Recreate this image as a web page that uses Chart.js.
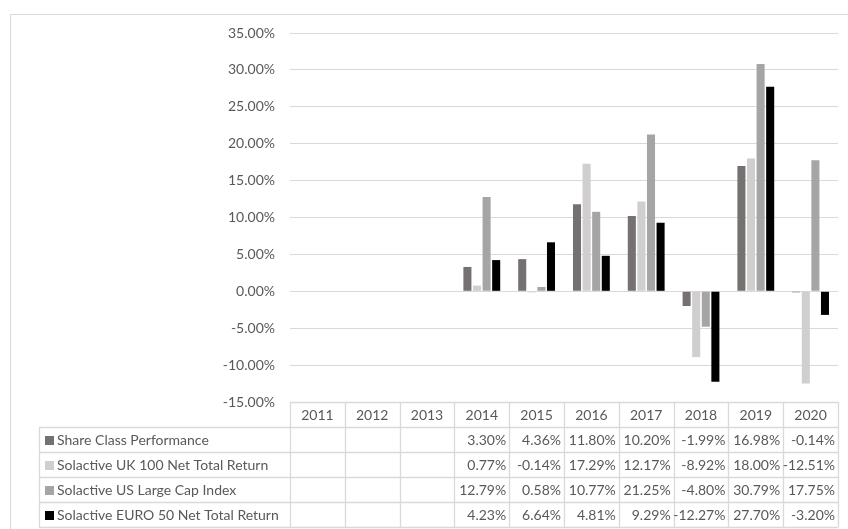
<!DOCTYPE html>
<html lang="en">
<head>
  <meta charset="UTF-8">
  <title>Annual performance</title>
  <script src="https://cdn.jsdelivr.net/npm/chart.js"></script>
  <style>
    html, body { margin: 0; padding: 0; background: #fff; }
  </style>
</head>
<body>
  <canvas id="myChart" width="848" height="529"></canvas>

  <script>
    // Years and series values (percent)
    const years = ['2011', '2012', '2013', '2014', '2015', '2016', '2017', '2018', '2019', '2020'];
    const shareClass = [null, null, null, 3.30, 4.36, 11.80, 10.20, -1.99, 16.98, -0.14];
    const uk100 = [null, null, null, 0.77, -0.14, 17.29, 12.17, -8.92, 18.00, -12.51];
    const usLargeCap = [null, null, null, 12.79, 0.58, 10.77, 21.25, -4.80, 30.79, 17.75];
    const euro50 = [null, null, null, 4.23, 6.64, 4.81, 9.29, -12.27, 27.70, -3.20];

    const seriesNames = [
      'Share Class Performance',
      'Solactive UK 100 Net Total Return',
      'Solactive US Large Cap Index',
      'Solactive EURO 50 Net Total Return'
    ];
    const seriesColors = ['#767171', '#d0cece', '#a5a5a5', '#000000'];
    const seriesData = [shareClass, uk100, usLargeCap, euro50];

    const FONT = 'Lato, "Open Sans", sans-serif';
    const TEXT = '#595959';
    const LINE = '#d9d9d9';

    function fmt(v) {
      return v.toFixed(2) + '%';
    }

    // Frame + data table drawn under the plot, using the x scale for columns
    const tablePlugin = {
      id: 'dataTable',
      beforeDraw(chart) {
        const c = chart.ctx;
        c.save();
        c.strokeStyle = LINE;
        c.lineWidth = 1;
        c.strokeRect(10.5, 14.5, 860, 540);
        c.restore();
      },
      afterDraw(chart) {
        const c = chart.ctx;
        const x = chart.scales.x;
        const area = chart.chartArea;
        const rowH = 25;
        const top = area.bottom;
        const legendLeft = 39;
        const half = (x.getPixelForValue(1) - x.getPixelForValue(0)) / 2;
        const edges = years.map((_, i) => x.getPixelForValue(i) - half);
        edges.push(x.getPixelForValue(years.length - 1) + half);

        c.save();
        c.strokeStyle = LINE;
        c.lineWidth = 1.3;
        c.beginPath();
        // header row
        c.moveTo(area.left, top + 0.5);
        c.lineTo(area.right, top + 0.5);
        for (let r = 1; r <= seriesNames.length + 1; r++) {
          const y = Math.round(top + r * rowH) + 0.5;
          c.moveTo(legendLeft, y);
          c.lineTo(area.right, y);
        }
        edges.forEach(ex => {
          const px = Math.round(ex) + 0.5;
          c.moveTo(px, top);
          c.lineTo(px, top + rowH * (seriesNames.length + 1));
        });
        c.moveTo(legendLeft + 0.5, top + rowH);
        c.lineTo(legendLeft + 0.5, top + rowH * (seriesNames.length + 1));
        c.stroke();

        c.font = '14px ' + FONT;
        c.fillStyle = TEXT;
        c.textBaseline = 'middle';
        c.textAlign = 'center';
        years.forEach((yr, i) => {
          c.fillText(yr, x.getPixelForValue(i), top + rowH / 2 + 1);
        });

        seriesNames.forEach((name, r) => {
          const cy = top + rowH * (r + 1) + rowH / 2 + 1;
          c.fillStyle = seriesColors[r];
          c.fillRect(45, Math.round(cy - 5), 9, 9);
          c.fillStyle = TEXT;
          c.textAlign = 'left';
          c.fillText(name, 57, cy);
          c.textAlign = 'right';
          seriesData[r].forEach((v, i) => {
            if (v === null) return;
            c.fillText(fmt(v), edges[i + 1] - 3, cy);
          });
        });
        c.restore();
      }
    };

    const ctx = document.getElementById('myChart').getContext('2d');
    const myChart = new Chart(ctx, {
      type: 'bar',
      data: {
        labels: years,
        datasets: seriesNames.map((name, i) => ({
          label: name,
          data: seriesData[i],
          backgroundColor: seriesColors[i],
          categoryPercentage: 0.7,
          barPercentage: 0.84
        }))
      },
      options: {
        responsive: false,
        animation: false,
        layout: {
          padding: { top: 33, right: 10, bottom: 127, left: 0 }
        },
        plugins: {
          legend: { display: false },
          tooltip: { enabled: false }
        },
        scales: {
          x: {
            display: false
          },
          y: {
            min: -15,
            max: 35,
            afterFit(scale) { scale.width = 290; },
            border: { display: false },
            grid: { color: LINE, drawTicks: false },
            ticks: {
              stepSize: 5,
              padding: 15,
              color: TEXT,
              font: { family: FONT, size: 14 },
              callback: v => fmt(v)
            }
          }
        }
      },
      plugins: [tablePlugin]
    });
  </script>
</body>
</html>
